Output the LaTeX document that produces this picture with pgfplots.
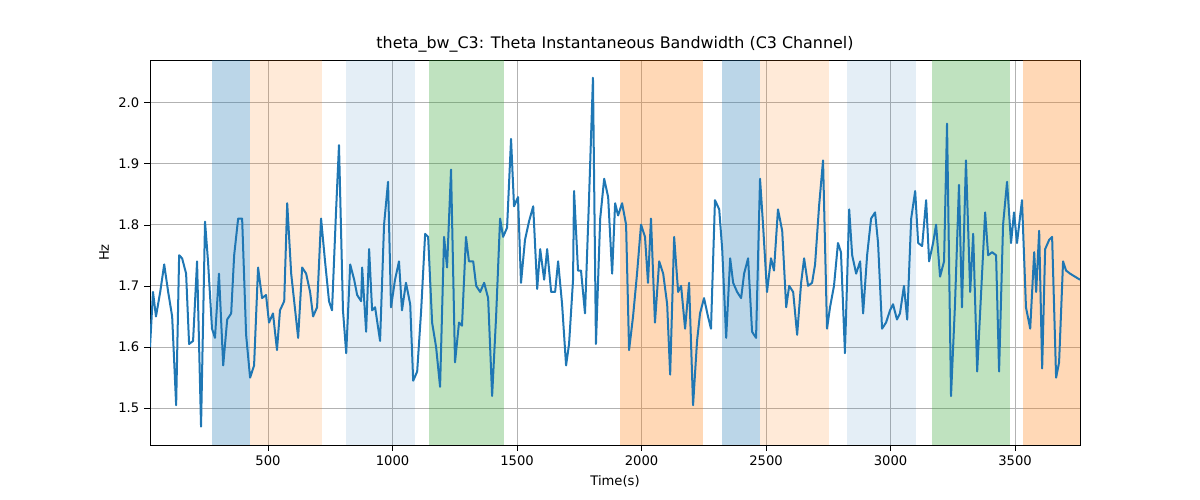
\documentclass[border=0pt]{standalone}
\usepackage{pgfplots}
\pgfplotsset{compat=1.18}
\usepackage{fontspec}
\setmainfont{DejaVu Sans}
\definecolor{tb}{HTML}{1F77B4}
\definecolor{to}{HTML}{FF7F0E}
\definecolor{tg}{HTML}{2CA02C}
\begin{document}
\begin{tikzpicture}
\useasboundingbox (0,0) rectangle (12in,5in);
\begin{axis}[at={(1.5in,0.55in)},anchor=south west,scale only axis,
width=9.3in,height=3.85in,xmin=26,xmax=3761,ymin=1.44,ymax=2.069,
xtick={500,1000,1500,2000,2500,3000,3500},ytick={1.5,1.6,1.7,1.8,1.9,2.0},
xticklabel style={/pgf/number format/.cd,1000 sep={}},
yticklabel style={/pgf/number format/.cd,fixed,fixed zerofill,precision=1},
/pgf/number format/assume math mode=true,
grid=major,grid style={color=black!30,line width=0.6pt},
tick label style={font=\fontsize{9.5}{11}\selectfont},
label style={font=\fontsize{9.5}{11}\selectfont},
xlabel={Time(s)},ylabel={Hz},
title={theta\_bw\_C3: Theta Instantaneous Bandwidth (C3 Channel)},
title style={font=\fontsize{11.5}{13}\selectfont,yshift=-4pt},
tick align=outside,tick style={black},xtick pos=bottom,ytick pos=left,
]
\fill[tb,opacity=0.3] (axis cs:275,1.44) rectangle (axis cs:428,2.069);
\fill[to,opacity=0.16] (axis cs:428,1.44) rectangle (axis cs:717,2.069);
\fill[tb,opacity=0.12] (axis cs:813,1.44) rectangle (axis cs:1090,2.069);
\fill[tg,opacity=0.3] (axis cs:1146,1.44) rectangle (axis cs:1448,2.069);
\fill[to,opacity=0.3] (axis cs:1914,1.44) rectangle (axis cs:2247,2.069);
\fill[tb,opacity=0.3] (axis cs:2323,1.44) rectangle (axis cs:2476,2.069);
\fill[to,opacity=0.16] (axis cs:2476,1.44) rectangle (axis cs:2753,2.069);
\fill[tb,opacity=0.12] (axis cs:2825,1.44) rectangle (axis cs:3102,2.069);
\fill[tg,opacity=0.3] (axis cs:3167,1.44) rectangle (axis cs:3480,2.069);
\fill[to,opacity=0.3] (axis cs:3532,1.44) rectangle (axis cs:3761,2.069);
\addplot[tb,line width=1.45pt,line join=round] coordinates {
(26,1.60)(38,1.69)(50,1.65)(67,1.69)(83,1.735)(99,1.69)(115,1.65)(131,1.505)(143,1.75)(155,1.745)(171,1.72)(183,1.605)(199,1.61)(215,1.74)(231,1.47)(247,1.805)(259,1.74)(275,1.63)(287,1.615)(303,1.72)(320,1.57)(336,1.645)(352,1.655)(364,1.75)(380,1.81)(396,1.81)(412,1.62)(428,1.55)(444,1.57)(460,1.73)(476,1.68)(492,1.685)(504,1.64)(520,1.655)(536,1.595)(548,1.66)(565,1.675)(577,1.835)(593,1.72)(609,1.66)(621,1.615)(637,1.73)(653,1.72)(669,1.69)(681,1.65)(697,1.665)(713,1.81)(729,1.74)(745,1.675)(757,1.66)(773,1.82)(785,1.93)(801,1.66)(814,1.59)(830,1.735)(846,1.71)(858,1.685)(874,1.675)(878,1.73)(894,1.625)(906,1.76)(918,1.66)(930,1.665)(950,1.61)(966,1.80)(982,1.87)(994,1.665)(1010,1.71)(1026,1.74)(1038,1.66)(1054,1.705)(1071,1.67)(1083,1.545)(1099,1.56)(1115,1.66)(1131,1.785)(1143,1.78)(1159,1.64)(1175,1.60)(1191,1.535)(1207,1.78)(1219,1.73)(1235,1.89)(1251,1.575)(1267,1.64)(1279,1.635)(1295,1.78)(1307,1.74)(1324,1.74)(1336,1.70)(1352,1.69)(1368,1.705)(1384,1.68)(1400,1.52)(1416,1.65)(1432,1.81)(1444,1.78)(1460,1.795)(1476,1.94)(1488,1.83)(1504,1.845)(1516,1.705)(1532,1.775)(1548,1.805)(1565,1.83)(1581,1.695)(1593,1.76)(1609,1.71)(1621,1.76)(1637,1.69)(1653,1.69)(1665,1.74)(1681,1.67)(1697,1.57)(1709,1.605)(1725,1.71)(1729,1.855)(1745,1.725)(1757,1.725)(1773,1.655)(1789,1.84)(1805,2.04)(1817,1.605)(1834,1.81)(1850,1.875)(1866,1.845)(1882,1.72)(1894,1.835)(1906,1.815)(1922,1.835)(1938,1.80)(1950,1.595)(1966,1.65)(1982,1.72)(1998,1.80)(2014,1.78)(2026,1.705)(2038,1.81)(2054,1.64)(2071,1.74)(2087,1.72)(2103,1.67)(2115,1.555)(2131,1.78)(2147,1.69)(2159,1.70)(2175,1.63)(2191,1.705)(2207,1.505)(2223,1.61)(2235,1.655)(2251,1.68)(2267,1.65)(2279,1.63)(2295,1.84)(2312,1.825)(2324,1.76)(2340,1.615)(2356,1.745)(2368,1.705)(2384,1.69)(2400,1.68)(2412,1.72)(2428,1.745)(2444,1.625)(2460,1.615)(2476,1.875)(2488,1.80)(2504,1.69)(2520,1.745)(2532,1.725)(2548,1.825)(2565,1.79)(2581,1.665)(2593,1.70)(2609,1.69)(2625,1.62)(2641,1.705)(2653,1.745)(2669,1.70)(2685,1.705)(2697,1.735)(2713,1.83)(2729,1.905)(2745,1.63)(2757,1.665)(2773,1.70)(2789,1.77)(2801,1.755)(2817,1.59)(2834,1.825)(2846,1.75)(2862,1.72)(2878,1.74)(2890,1.655)(2906,1.75)(2922,1.81)(2938,1.82)(2950,1.77)(2966,1.63)(2982,1.64)(2998,1.66)(3010,1.67)(3026,1.645)(3038,1.655)(3054,1.70)(3067,1.645)(3083,1.81)(3099,1.855)(3111,1.77)(3127,1.765)(3143,1.84)(3155,1.74)(3171,1.77)(3183,1.80)(3199,1.715)(3215,1.74)(3227,1.965)(3243,1.52)(3259,1.67)(3275,1.865)(3287,1.665)(3303,1.905)(3320,1.69)(3332,1.785)(3348,1.56)(3364,1.69)(3380,1.82)(3392,1.75)(3408,1.755)(3424,1.75)(3436,1.56)(3452,1.80)(3468,1.87)(3484,1.77)(3496,1.82)(3508,1.77)(3528,1.84)(3544,1.665)(3561,1.63)(3577,1.755)(3585,1.69)(3597,1.79)(3609,1.565)(3621,1.76)(3637,1.775)(3649,1.78)(3665,1.55)(3677,1.575)(3693,1.74)(3705,1.725)(3721,1.72)(3761,1.71)
};
\end{axis}
\end{tikzpicture}
\end{document}
